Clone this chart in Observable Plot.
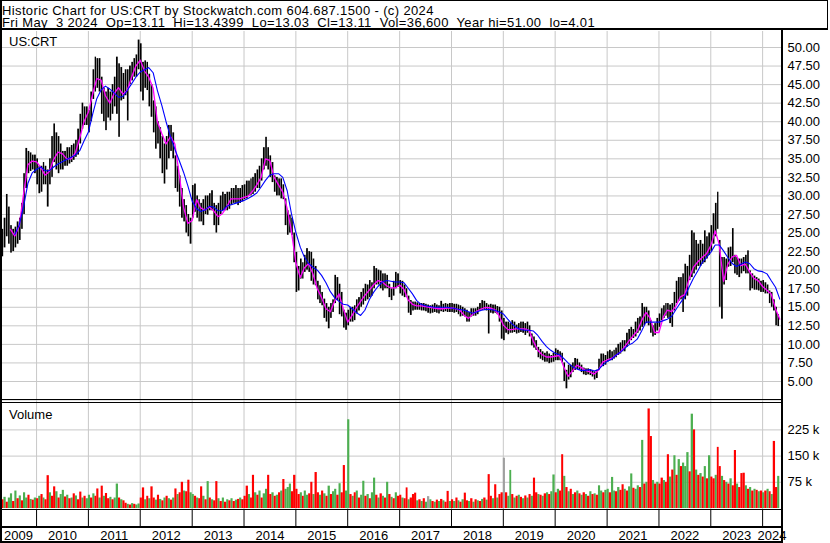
<!DOCTYPE html>
<html><head><meta charset="utf-8">
<script src="https://cdn.jsdelivr.net/npm/d3@7"></script>
<script src="https://cdn.jsdelivr.net/npm/@observablehq/plot@0.6"></script>
<style>
html,body{margin:0;padding:0;background:#fff;overflow:hidden;}
#wrap{position:relative;width:830px;height:543px;overflow:hidden;background:#fff;font-family:"Liberation Sans",Arial,sans-serif;font-size:13px;color:#000;}
.abs{position:absolute;}
.ln{position:absolute;background:#000;}
#hdrbox{left:0;top:0;width:826px;height:27px;border:1px solid #000;border-bottom-width:2px;}
#hdr{font-size:13px;line-height:12.3px;white-space:pre;letter-spacing:0.37px;}
.lbl{line-height:13px;white-space:pre;}
</style></head>
<body><div id="wrap"></div>
<script>
// ---------- DATA ----------
const title = "Historic Chart for US:CRT by Stockwatch.com 604.687.1500 - (c) 2024";
const subtitle = "Fri May  3 2024  Op=13.11  Hi=13.4399  Lo=13.03  Cl=13.11  Vol=36,600  Year hi=51.00  lo=4.01";
const symbol = "US:CRT";
const volumeTitle = "Volume";
const priceTicks = d3.range(5, 50.01, 2.5);
const volumeTicks = [75, 150, 225];           // thousands
const years = d3.range(2009, 2025);

// semi-monthly bars (1st & 16th), starting 2009-05-01
const priceHigh = [
  25.5,27,30.2,28.5,26,25.5,25.8,26.5,27,29,33,36.4,36,35.8,35.5,35.5,
  35,34,34,34.5,34,33.5,35,38,39.7,38.5,38,37,36,36,36.5,36.5,36.8,37,37.5,39,41,42.5,42,42,
  41.5,44,47,48.7,48.5,48.5,46,44.5,44,44.5,44,45,46,48.7,47.8,47.3,46.5,47,47,47.5,48,48.5,49,51,
  50.5,48,48.2,48,46.4,45,42.8,42,40,39.2,38,37,38,39.5,39.5,38.5,35.4,34,32.7,31,29.5,28.7,27.5,27,
  31.4,31.6,30,29.5,29,29.5,30,30,30.3,30.7,29,28.7,29,30,30.5,30.2,30.5,30.5,31,31,31.4,31,31,31.4,
  31.5,32,32,32.3,32.5,33,33.5,34,35,36.5,37.9,36.5,35.4,34.5,32.7,32.5,32.3,32.3,31.5,29.6,28,27.4,27,25,
  22.4,20.5,21.5,21,22,22.9,22.5,22.4,21.5,20.5,18.5,17.9,17,16.1,15.5,15,15.5,16,19.3,19,18.1,17,14.6,14.2,
  14.6,15,15,15.2,16,16.3,17,17.5,18.1,18,18.6,18.3,20.5,20.2,20,19.9,19.5,19.5,19.3,18.1,17.5,18.5,19.7,19.5,
  18.6,18.5,18,17.5,16.5,15.9,15.7,15.7,15.6,15.5,15.5,15.5,15.4,15.3,15.2,15.3,15.5,15.3,15.2,15.8,15.4,15.5,15.4,15.5,
  15.5,15.4,15.4,15.3,15.2,15,14.8,14.6,14.3,14.8,14.8,14.8,15,15.5,15.9,15.8,15.5,15.3,15.4,15.3,15.3,15.1,15,14.5,
  13.5,13,13,12.8,13.2,13,12.6,12.8,13,13,12.8,13,12.5,11.4,11,10.5,9.6,9.3,9,8.8,9,8.7,8.5,8.8,
  9.4,9.2,9,8.8,7.5,6.5,7.2,7.2,7.5,8.1,8,7.5,7.2,6.8,6.7,6.7,6.6,6.5,6.3,6.5,8,8.7,8.7,8.5,
  9,9.2,9,9.2,9.5,10,10.2,10.5,10.5,11.5,12,12.3,12,13,13.5,13.7,15.5,15,15,14.5,13.2,12.5,12.8,13.5,
  14.1,14.8,15.2,15.5,15.5,15.3,15.5,17,18.5,19,19,19.5,20.8,20.5,22,25.3,25,24,23.5,24,23.5,25.3,24.5,25,
  26,27.6,29,30.5,24,21.7,21.7,21.5,23,23.1,25.6,22,21.7,21.5,21.5,21.7,22,22.6,19.9,19.5,19.2,19,18.8,18.5,
  18.6,18.3,18,17.2,17,16,15,14
];
const priceLow = [
  21.8,23,24.5,23.5,22.3,22.5,23,23.5,24,25.5,27.5,31,33,33.3,33.5,33,
  31.5,30.3,30.5,31.5,31.5,28.5,31.5,32.5,34.5,33.5,33,33.5,33.5,34,34,34.3,34.5,34.8,35.2,35.5,37,39,39.5,39.5,
  38.5,40,43,44,44.5,44,41,40,38.8,40.5,40.1,41,42,41,37.9,42.8,43,43.5,40.1,45,45.5,46,46,47,
  44,42.8,44.5,44.2,42,40.6,38.5,36.3,37,35,33,31.6,33.5,35,36,35,31,30.5,28.5,27,26.5,25,24.5,23.5,
  27,27.8,27,26.5,26.5,26,27.5,27.4,28,28,26,25,26,27.5,28,28,28,28.2,28.7,29,29,28.7,29,29.2,
  29.5,29.6,30,30,30.2,30.5,31,31,32,33.5,34,33.5,32.5,31.8,30.5,30,30,29.6,29.5,26,24.7,25,24.7,21,
  17,17.2,18.8,18.8,19.7,20,19.7,18.5,18,17.9,16,15.5,15.2,13.5,13,12.1,13.5,14.3,15.5,15.9,14,13.7,12.2,11.9,
  12.5,13,13,13.2,14.1,14.5,15,15.3,15.8,16,16.3,16.5,17.5,18,18,17.5,17.2,17.5,17.5,16.3,15.9,16.5,17.5,17.7,
  16.8,16.5,16.3,16.3,14.2,13.9,14.5,14.6,14.6,14.6,14.5,14.5,14.4,14.2,14.1,14.2,14.3,14.2,14.1,14.4,14.3,14.4,14.3,14.3,
  14.3,14.2,14.3,14,13.7,13.8,13.7,13,13,13.7,13.8,13.8,14,14.5,14.6,14.6,14.5,11.4,14.2,14.1,14.2,14,13,10.7,
  10.5,11.5,11.3,11.5,11.5,11.6,11.4,11.5,11.6,11.5,11.2,11.5,11,9.8,9.5,9.2,8.2,8,7.8,7.6,7.6,7.4,7.5,7.6,
  7.8,7.8,7.8,7.5,5,4.01,5.2,5.5,6.2,6.5,6.6,6.5,6.2,5.9,5.8,5.9,5.8,5.6,5.2,5.4,6.5,7.2,7,7.2,
  7.6,7.8,7.8,8,8.2,8.5,8.7,9,9,9.6,10,10.5,10.8,11,11.5,11.8,12.3,12.5,12.8,12.5,11.5,11,11.2,11.8,
  12.3,13.2,13.5,13.8,13.5,12.8,12.3,14.5,15.5,15.8,16,14.3,16,16.5,18.6,19,19.5,20,20.5,20.5,20.8,21,21.5,22,
  22.5,23.5,24.5,25.5,15,13.4,18,18.6,20.4,20.5,21,19.5,19.3,19,19.5,19.8,19.5,19.5,17.2,17.5,17.3,17.3,17.2,17,
  17,16.8,16.8,15.5,15,14.5,12.5,12.4
];
// semi-monthly volume in thousands: + = up period (green), - = down period (red)
const volume = [
  -25,32,-18,30,42,-20,50,-28,36,-22,45,30,-38,26,-24,30,
  -28,35,-40,30,-25,-94,45,-35,-62,48,-30,40,52,-33,38,-28,30,-42,36,-25,-47,30,-35,28,
  38,-30,42,-35,-56,30,-64,35,-43,-28,32,-25,30,70,-30,25,-22,-15,12,-10,14,-12,10,13,
  -30,-59,25,-35,28,-62,-30,24,-38,26,-22,30,-35,28,-24,30,-56,40,-45,-75,50,-48,-81,45,
  40,-35,30,-28,-62,35,-25,77,-30,25,-22,-77,28,-20,30,-18,25,-22,28,-20,24,-26,30,-25,
  -35,-64,40,-30,-95,45,-38,50,-30,42,55,-95,-40,45,-35,38,-45,50,-83,55,60,70,-48,-95,
  -55,-40,45,-35,50,38,-42,-75,40,-103,-45,38,-50,42,-35,64,-40,48,55,-38,71,-45,-123,50,
  254,-40,35,-45,50,-30,38,78,-35,40,-28,45,87,-38,30,-42,35,-30,75,-40,32,-28,45,-35,
  -38,30,-28,-59,25,-30,-40,-44,22,-25,20,-28,18,34,25,-20,18,-24,20,-26,22,-18,-49,20,
  -25,20,-30,22,-18,25,-44,-22,20,-28,18,-25,22,-20,26,-30,24,-97,-35,28,-68,30,-40,-45,
  144,-45,35,109,-40,30,-35,38,-32,28,-36,30,-40,35,-87,-45,40,-38,35,-42,45,-40,48,96,
  -45,55,-50,-154,92,-60,48,-55,40,-45,50,-42,38,-45,40,-35,48,-40,42,-38,65,50,-45,52,
  55,-45,89,50,-48,60,-52,-68,55,-50,62,99,-58,55,65,-60,195,-70,75,-285,-206,80,-70,75,
  -70,-87,80,-75,-154,90,-110,151,-95,140,-120,130,120,160,-105,270,-225,110,-95,100,-90,120,-85,151,
  -90,-85,95,-175,-120,92,-80,75,-70,85,-65,-166,70,-60,-100,-101,65,-55,60,-50,55,-52,48,-50,
  45,-50,55,-48,40,-192,-60,92
];
const unchangedBars = [197, 232];   // grey volume bars (no price change)

// monthly moving averages, starting 2009-06-01
const maShort = [
  null,25.5,24.6,26.0,30.2,34.2,34.7,34.6,33.8,32.8,
  33.3,34.9,35.9,35.7,35.0,35.0,35.8,37.8,40.0,41.3,
  43.8,45.8,45.6,43.5,42.5,43.8,44.6,43.7,44.2,46.0,
  47.5,48.3,46.8,46.0,44.5,40.0,38.4,37.0,38.0,37.0,
  33.0,28.5,26.3,26.7,29.5,28.4,28.1,28.5,28.0,27.2,
  27.6,28.5,29.6,29.6,29.6,29.8,30.0,30.6,31.5,32.5,
  35.0,34.8,32.5,31.5,30.5,28.3,25.2,21.0,19.0,20.3,
  20.9,19.5,17.5,16.3,14.8,14.4,15.8,16.8,14.8,13.0,
  13.9,14.9,15.8,16.6,17.3,18.0,18.6,18.4,17.9,17.6,
  17.6,18.0,17.4,16.0,15.4,15.2,15.2,15.1,15.0,14.9,
  14.8,14.8,14.9,14.9,14.8,14.6,13.9,13.5,14.1,14.5,
  14.8,15.0,14.9,14.7,13.9,12.6,12.0,12.0,12.1,12.1,
  12.1,11.9,10.4,9.2,8.6,8.3,8.3,8.4,8.5,7.0,
  5.7,6.4,7.2,6.9,6.5,6.3,6.0,6.5,7.6,7.9,
  8.1,8.5,8.9,9.6,10.4,11.1,11.8,13.2,14.3,13.5,
  11.6,11.6,13.7,14.6,14.4,15.2,16.4,16.7,18.8,20.4,
  21.1,21.7,22.2,23.3,25.3,23.5,18.5,20.8,21.8,22.0,
  20.6,20.8,19.8,18.9,18.6,17.8,17.3,16.8,14.8,13.4
];
const maLong = [
  null,null,24.8,26.1,28.5,31.7,33.1,33.6,33.9,33.4,
  33.4,33.9,34.3,34.6,34.9,35.2,35.5,36.1,37.4,38.6,
  41.1,43.1,44.3,44.8,44.4,43.9,43.3,43.4,44.2,45.1,
  46.0,46.7,47.0,47.3,46.6,44.2,42.2,40.0,38.0,36.3,
  34.8,33.2,31.4,29.3,28.3,27.9,28.1,28.6,28.5,28.0,
  28.0,28.6,28.8,29.0,29.2,29.4,29.7,30.0,30.4,31.2,
  32.1,32.8,33.0,33.0,32.5,30.7,27.6,25.1,23.1,21.8,
  20.9,20.4,20.0,19.3,18.3,17.1,16.3,15.8,15.4,15.3,
  14.8,14.3,13.9,14.6,16.0,17.0,17.8,18.4,18.6,18.5,
  18.4,18.4,18.3,17.6,16.8,15.9,15.4,15.2,15.1,15.0,
  15.0,15.0,15.0,14.9,14.8,14.7,14.6,14.4,14.2,14.4,
  14.6,14.7,14.7,14.6,14.4,14.1,13.4,12.8,12.3,12.0,
  11.9,11.9,11.8,11.2,10.4,9.7,9.2,8.8,8.6,8.1,
  7.5,7.0,6.7,6.5,6.5,6.6,6.4,6.6,7.2,7.7,
  8.0,8.5,8.9,9.4,9.9,10.2,10.7,11.8,13.0,13.0,
  13.0,13.0,13.2,13.4,13.8,14.7,15.6,16.4,17.7,18.9,
  19.9,21.0,21.7,22.4,23.4,23.4,22.6,21.7,20.9,20.5,
  20.8,21.1,20.9,20.2,19.9,19.8,19.5,18.6,17.7,16.1
];

// ---------- BUILD ----------
const semiDate = i => new Date(Date.UTC(2009, Math.floor((8 + i) / 2), (8 + i) % 2 ? 16 : 1));
const monthDate = k => new Date(Date.UTC(2009, 5 + k, 1));
const bars = priceHigh.map((h, i) => ({x1: semiDate(i), x2: semiDate(i + 1), hi: h, lo: priceLow[i]}));
const vols = volume.map((v, i) => ({x1: semiDate(i), x2: semiDate(i + 1), v: Math.abs(v),
  dir: unchangedBars.includes(i) ? "n" : v >= 0 ? "u" : "d"}));
const ma = maShort.map((s, k) => ({date: monthDate(k), s, l: maLong[k]}));

const xDomain = [new Date(Date.UTC(2009, 3, 22)), new Date(Date.UTC(2024, 4, 13))];
const yearStarts = years.slice(1).map(y => new Date(Date.UTC(y, 0, 1)));
const yearCells = years.map(y => {
  const a = Math.max(+xDomain[0], Date.UTC(y, 0, 1)), b = Math.min(+xDomain[1], Date.UTC(y + 1, 0, 1));
  return {year: String(y), mid: new Date((a + b) / 2)};
});

const GRID = "#c8c8c8";
const font = {fontFamily: "'Liberation Sans', Arial, sans-serif", fontSize: "13px", background: "transparent", color: "#000", overflow: "hidden"};
const W = 830, MR = 49;

const pricePlot = Plot.plot({
  width: W, height: 370, marginLeft: 0, marginRight: MR, marginTop: 0, marginBottom: 0,
  style: font,
  x: {domain: xDomain, axis: null},
  y: {domain: [2.304, 52.156], label: null},
  marks: [
    Plot.gridY(d3.range(2.5, 50.01, 2.5), {stroke: GRID, strokeOpacity: 1}),
    Plot.gridX(yearStarts, {stroke: GRID, strokeOpacity: 1}),
    Plot.rect(bars, {x1: "x1", x2: "x2", y1: "lo", y2: "hi", fill: "#000", insetLeft: 0.25, insetRight: 0.25}),
    Plot.line(ma, {x: "date", y: "s", stroke: "#ff00ff", strokeWidth: 1.3}),
    Plot.line(ma, {x: "date", y: "l", stroke: "#0000ff", strokeWidth: 1.1}),
    Plot.axisY(priceTicks, {anchor: "right", tickSize: 0, tickPadding: 6, tickFormat: d => d.toFixed(2), label: null, fontSize: 13, fill: "#000"})
  ]
});

const volPlot = Plot.plot({
  width: W, height: 109, marginLeft: 0, marginRight: MR, marginTop: 0, marginBottom: 0,
  style: font,
  x: {domain: xDomain, axis: null},
  y: {domain: [-5.7, 306.3], label: null},
  marks: [
    Plot.gridY(volumeTicks, {stroke: GRID, strokeOpacity: 1}),
    Plot.gridX(yearStarts, {stroke: GRID, strokeOpacity: 1}),
    Plot.rect(vols.filter(d => d.dir === "u"), {x1: "x1", x2: "x2", y1: 0, y2: "v", fill: "#4caf50"}),
    Plot.rect(vols.filter(d => d.dir === "d"), {x1: "x1", x2: "x2", y1: 0, y2: "v", fill: "#ff0000"}),
    Plot.rect(vols.filter(d => d.dir === "n"), {x1: "x1", x2: "x2", y1: 0, y2: "v", fill: "#a0a0a0"}),
    Plot.axisY(volumeTicks, {anchor: "right", tickSize: 0, tickPadding: 6, tickFormat: d => d + " k", label: null, fontSize: 13, fill: "#000"})
  ]
});

const axisPlot = Plot.plot({
  width: W, height: 33, marginLeft: 0, marginRight: MR, marginTop: 0, marginBottom: 0,
  style: font,
  x: {domain: xDomain, axis: null},
  y: {domain: [0, 33], range: [0, 33], axis: null},
  marks: [
    Plot.ruleX(yearStarts, {y1: 0, y2: 16.5, stroke: "#000"}),
    Plot.text(yearCells, {x: "mid", y: 25, text: "year", fontSize: 13, fill: "#000"})
  ]
});

// ---------- LAYOUT ----------
const wrap = document.getElementById("wrap");
function place(el, left, top) { el.style.position = "absolute"; el.style.left = left + "px"; el.style.top = top + "px"; wrap.appendChild(el); return el; }
function line(l, t, w, h) { const d = document.createElement("div"); d.className = "ln"; Object.assign(d.style, {left: l + "px", top: t + "px", width: w + "px", height: h + "px"}); wrap.appendChild(d); }
function label(txt, cls, l, t) { const d = document.createElement("div"); d.className = "abs " + cls; d.textContent = txt; Object.assign(d.style, {left: l + "px", top: t + "px"}); wrap.appendChild(d); return d; }

place(pricePlot, 0, 31);
place(volPlot, 0, 401);
place(axisPlot, 0, 510);

const hb = document.createElement("div"); hb.id = "hdrbox"; hb.className = "abs"; wrap.appendChild(hb);
label(title + "\n" + subtitle, "", 2, 4.5).id = "hdr";
label(symbol, "lbl", 9, 35.2);
label(volumeTitle, "lbl", 9, 407.5);

line(0, 0, 2, 543);        // left border
line(781, 30, 2, 513);     // right edge of panels
line(0, 399, 781, 1);      // double separator
line(0, 402, 781, 1);
line(0, 509, 781, 1);      // volume bottom
line(0, 526, 781, 2);      // tick row bottom
line(0, 541, 781, 2);      // bottom border
</script>
</body></html>
